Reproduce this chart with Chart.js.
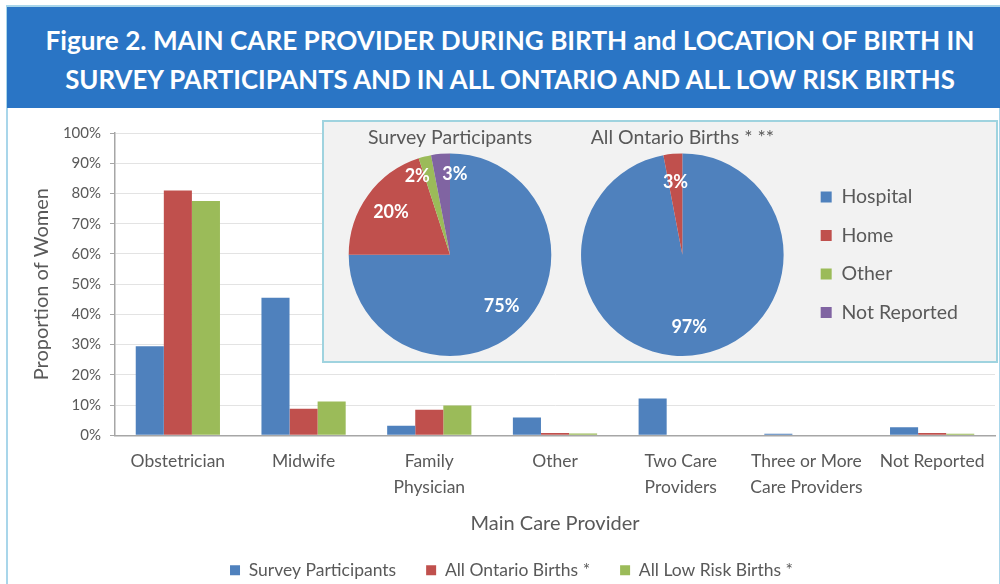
<!DOCTYPE html>
<html>
<head>
<meta charset="utf-8">
<script src="https://cdn.jsdelivr.net/npm/chart.js@4.4.0/dist/chart.umd.min.js"></script>
<style>
  html, body { margin: 0; padding: 0; background: #fff; }
  #wrap { position: relative; width: 1000px; height: 584px; overflow: hidden; font-family: Lato, sans-serif; }
  #frame { position: absolute; left: 6px; top: 5px; width: 991px; height: 600px; border: 2px solid #a9d6ea; }
  #banner { position: absolute; left: 7px; top: 7px; width: 993px; height: 101px; background: #2a75c5; color: #fff; font-weight: bold; }
  #banner div { position: absolute; left: 0; width: 1006px; text-align: center; white-space: nowrap; }
  #barBox { position: absolute; left: 28px; top: 110px; }
  #pieBox { position: absolute; left: 322px; top: 120px; width: 672px; height: 239px; background: #f2f2f2; border: 2px solid #9fd3df; }
  #pie1Box { position: absolute; left: 340px; top: 124px; }
  #pie2Box { position: absolute; left: 563px; top: 124px; }
</style>
</head>
<body>
<div id="wrap">
  <div id="frame"></div>
  <div id="banner">
    <div id="t1" style="top:33px">Figure 2. MAIN CARE PROVIDER DURING BIRTH and LOCATION OF BIRTH IN</div>
    <div id="t2" style="top:73px">SURVEY PARTICIPANTS AND IN ALL ONTARIO AND ALL LOW RISK BIRTHS</div>
  </div>
  <div id="barBox"><canvas id="barChart" width="970" height="474"></canvas></div>
  <div id="pieBox"></div>
  <div id="pie1Box"><canvas id="pie1" width="220" height="236"></canvas></div>
  <div id="pie2Box"><canvas id="pie2" width="435" height="236"></canvas></div>
</div>
<script>
// main care provider (bar chart)
const providers = ['Obstetrician', 'Midwife', ['Family', 'Physician'], 'Other',
  ['Two Care', 'Providers'], ['Three or More', 'Care Providers'], 'Not Reported'];
const surveyPct = [29.5, 45.5, 3.2, 5.9, 12.2, 0.5, 2.7];
const ontarioPct = [81, 8.8, 8.5, 0.8, 0, 0, 0.8];
const lowRiskPct = [77.5, 11.2, 9.9, 0.6, 0, 0, 0.5];
const seriesNames = ['Survey Participants', 'All Ontario Births *', 'All Low Risk Births *'];

// location of birth (pies)
const locations = ['Hospital', 'Home', 'Other', 'Not Reported'];
const surveyLocation = [75, 20, 2, 3];
const ontarioLocation = [97, 3, 0, 0];
const pieTitles = ['Survey Participants', 'All Ontario Births * **'];

const BLUE = '#4f81bd', RED = '#c0504d', GREEN = '#9bbb59', PURPLE = '#8064a2';
const GREY = '#595959';

// fit the banner lines to the width they take in the figure
function fitLine(id, target) {
  const el = document.getElementById(id);
  const c = document.createElement('canvas').getContext('2d');
  c.font = 'bold 100px Lato';
  const w = c.measureText(el.textContent).width;
  const size = 100 * target / w;
  el.style.fontSize = size + 'px';
  el.style.lineHeight = '1';
  el.style.top = (parseFloat(el.style.top) - size / 2) + 'px';
}
fitLine('t1', 930);
fitLine('t2', 896);

new Chart(document.getElementById('barChart'), {
  type: 'bar',
  data: {
    labels: providers,
    datasets: [
      { label: seriesNames[0], data: surveyPct, backgroundColor: BLUE },
      { label: seriesNames[1], data: ontarioPct, backgroundColor: RED },
      { label: seriesNames[2], data: lowRiskPct, backgroundColor: GREEN }
    ]
  },
  options: {
    responsive: false,
    animation: false,
    layout: { padding: { top: 23, right: 3, left: 0, bottom: -5 } },
    datasets: { bar: { categoryPercentage: 0.67, barPercentage: 1 } },
    plugins: {
      tooltip: { enabled: false },
      legend: {
        position: 'bottom',
        labels: { boxWidth: 10, boxHeight: 10, padding: 30, color: GREY, font: { family: 'Lato', size: 17.5 } }
      }
    },
    scales: {
      x: {
        grid: { display: false, drawTicks: false },
        border: { color: '#a6a6a6', width: 1.5 },
        ticks: { color: GREY, font: { family: 'Lato', size: 17.5, lineHeight: 1.49 }, padding: 13, maxRotation: 0, autoSkip: false },
        title: { display: true, text: 'Main Care Provider', color: GREY, font: { family: 'Lato', size: 20 }, padding: { top: -2, bottom: -4 } }
      },
      y: {
        min: 0,
        max: 100,
        ticks: { stepSize: 10, callback: v => v + '%', color: GREY, font: { family: 'Lato', size: 15 }, padding: 9 },
        grid: { color: '#e3e3e3', tickColor: '#a6a6a6', tickLength: 5 },
        border: { color: '#a6a6a6', width: 1.5 },
        title: { display: true, text: 'Proportion of Women', color: GREY, font: { family: 'Lato', size: 20 }, padding: { top: 2, bottom: 2 } },
        afterFit(scale) { scale.width = 87; }
      }
    }
  }
});

// white percentage labels inside the slices
const sliceLabels = {
  id: 'sliceLabels',
  afterDatasetsDraw(chart) {
    const ctx = chart.ctx;
    const vals = chart.data.datasets[0].data;
    ctx.save();
    ctx.font = 'bold 18px Lato';
    ctx.fillStyle = '#fff';
    ctx.textBaseline = 'middle';
    chart.getDatasetMeta(0).data.forEach((arc, i) => {
      const v = vals[i];
      if (!v) return;
      const p = arc.getProps(['x', 'y', 'startAngle', 'endAngle', 'outerRadius'], true);
      const mid = (p.startAngle + p.endAngle) / 2;
      let align = 'center';
      let r = p.outerRadius * 0.72;
      if (v < 5) {
        if (vals[i + 1] && vals[i + 1] < 5) align = 'right';
        else if (vals[i - 1] && vals[i - 1] < 5) align = 'left';
        if (align !== 'center') r = p.outerRadius * 0.8;
      }
      ctx.textAlign = align;
      ctx.fillText(v + '%', p.x + Math.cos(mid) * r, p.y + Math.sin(mid) * r);
    });
    ctx.restore();
  }
};

function pieChart(id, values, title, showLegend, padRight) {
  return new Chart(document.getElementById(id), {
    type: 'pie',
    data: {
      labels: locations,
      datasets: [{ data: values, backgroundColor: [BLUE, RED, GREEN, PURPLE], borderWidth: 0 }]
    },
    options: {
      responsive: false,
      animation: false,
      layout: { padding: { top: 0, bottom: 4, left: 0, right: padRight } },
      plugins: {
        tooltip: { enabled: false },
        title: {
          display: true, text: title, fullSize: false, color: GREY,
          font: { family: 'Lato', size: 19.5, weight: 'normal' }, padding: { top: 2, bottom: 4 }
        },
        legend: {
          display: showLegend,
          position: 'right',
          fullSize: false,
          labels: { boxWidth: 11, boxHeight: 11, padding: 19, color: GREY, font: { family: 'Lato', size: 19.5 } }
        }
      }
    },
    plugins: [sliceLabels]
  });
}

pieChart('pie1', surveyLocation, pieTitles[0], false, 0);
pieChart('pie2', ontarioLocation, pieTitles[1], true, 30);
</script>
</body>
</html>
